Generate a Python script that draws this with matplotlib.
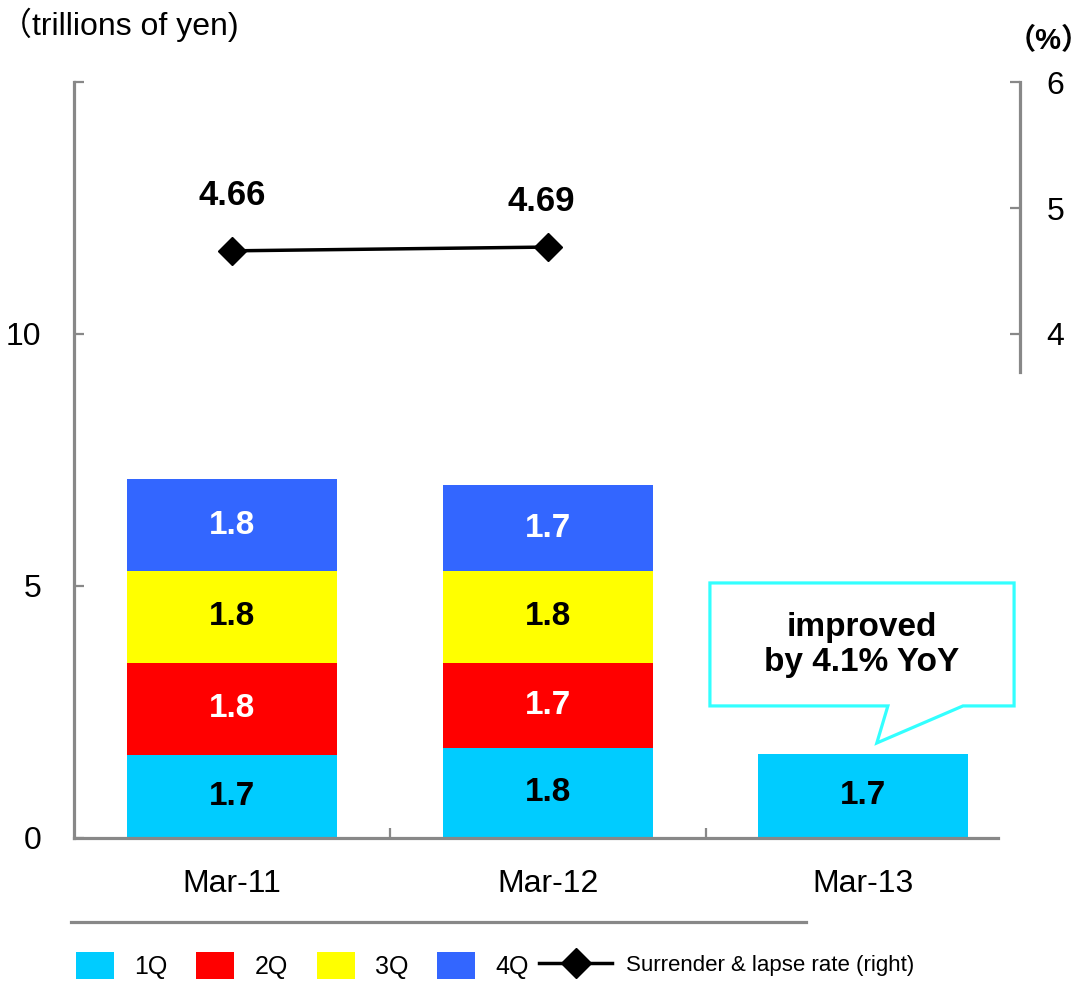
import matplotlib
matplotlib.use("Agg")
import matplotlib.pyplot as plt
import numpy as np
from matplotlib.patches import Patch, Polygon
from matplotlib.lines import Line2D

plt.rcParams['font.family'] = ['Liberation Sans', 'Noto Sans CJK JP', 'DejaVu Sans']

# data
years = ['Mar-11', 'Mar-12', 'Mar-13']
quarters = ['1Q', '2Q', '3Q', '4Q']
q_values = [
    [1.65, 1.79, 1.67],   # 1Q
    [1.83, 1.69, np.nan],  # 2Q
    [1.81, 1.81, np.nan],  # 3Q
    [1.83, 1.71, np.nan],  # 4Q
]
q_labels = [
    ['1.7', '1.8', '1.7'],
    ['1.8', '1.7', ''],
    ['1.8', '1.8', ''],
    ['1.8', '1.7', ''],
]
lapse_rate = [4.66, 4.69, np.nan]
lapse_labels = ['4.66', '4.69', '']
label_offsets = [(0, 40), (-5, 33), (0, 0)]

colors = ['#00CCFF', '#FF0000', '#FFFF00', '#3366FF']
text_colors = ['black', 'white', 'black', 'white']
gray = '#888888'

fig = plt.figure(figsize=(10.92, 9.81), dpi=100)
ax = fig.add_axes([0.0682, 0.1458, 0.846, 0.7706])

x = np.arange(len(years))
bottom = np.zeros(len(years))
for vals, labs, c, tc in zip(q_values, q_labels, colors, text_colors):
    v = np.nan_to_num(np.array(vals, dtype=float))
    ax.bar(x, v, 0.666, bottom=bottom, color=c, zorder=2)
    for xi, (vi, b, lab) in enumerate(zip(v, bottom, labs)):
        if vi > 0:
            ax.text(xi, b + vi / 2, lab, ha='center', va='center',
                    fontsize=24, fontweight='bold', color=tc, zorder=3)
    bottom = bottom + v

ax.set_xlim(-0.5, 2.428)
ax.set_ylim(0, 15)
ax.set_yticks([0, 5, 10, 15])
ax.set_yticklabels(['0', '5', '10', ''])
ax.set_xticks(x)
ax.set_xticklabels(years)
ax.set_xticks([0.5, 1.5], minor=True)
ax.tick_params(axis='x', which='major', length=0, labelsize=23, pad=22)
ax.tick_params(axis='x', which='minor', direction='in', length=7,
               width=1.6, color=gray)
ax.tick_params(axis='y', direction='in', length=7, width=1.6, color=gray,
               labelsize=23, pad=24)
for s in ['top', 'right']:
    ax.spines[s].set_visible(False)
for s in ['left', 'bottom']:
    ax.spines[s].set_color(gray)
    ax.spines[s].set_linewidth(2.3)

# right axis
ax2 = ax.twinx()
ax2.set_ylim(0, 6)
ax2.set_yticks([4, 5, 6])
for s in ['top', 'left', 'bottom']:
    ax2.spines[s].set_visible(False)
ax2.spines['right'].set_position(('axes', 1.0238))
ax2.spines['right'].set_bounds(3.7, 6)
ax2.spines['right'].set_color(gray)
ax2.spines['right'].set_linewidth(2.3)
ax2.tick_params(axis='y', direction='in', length=7, width=1.6, color=gray,
                labelsize=23, pad=19)
ax2.plot(x, lapse_rate, color='black', lw=2.5, marker='D', ms=14, zorder=4)
for xi, (v, lab, off) in enumerate(zip(lapse_rate, lapse_labels, label_offsets)):
    if lab:
        ax2.annotate(lab, (xi, v), xytext=off, textcoords='offset points',
                     ha='center', va='center', fontsize=25, fontweight='bold')

# callout
callout = Polygon([(1.514, 5.06), (2.478, 5.06), (2.478, 2.62), (2.316, 2.62),
                   (2.043, 1.885), (2.078, 2.62), (1.514, 2.62)],
                  closed=True, facecolor='white', edgecolor='#33FFFF',
                  lw=2.3, clip_on=False, zorder=5)
ax.add_patch(callout)
ax.text(1.996, 3.83, 'improved\nby 4.1% YoY', ha='center', va='center',
        fontsize=24, fontweight='bold', linespacing=1.2, zorder=6)

# axis unit labels
fig.text(0.0, 0.975, '（trillions of yen)', fontsize=23, ha='left', va='center')
fig.text(0.999, 0.958, '（%）', fontsize=21, fontweight='bold', ha='right', va='center')

# separator line above legend
fig.add_artist(Line2D([0.065, 0.738], [0.060, 0.060], color=gray, lw=2.3))

handles = [Patch(facecolor=c, edgecolor='none') for c in colors]
leg1 = fig.legend(handles, quarters, loc='center left', bbox_to_anchor=(0.0696, 0.016),
                  ncol=4, frameon=False, fontsize=18,
                  handlelength=1.52, handleheight=1.3, handletextpad=0.8,
                  columnspacing=1.16, borderpad=0, borderaxespad=0)
line_handle = Line2D([], [], color='black', lw=2.5, marker='D', ms=15)
leg2 = fig.legend([line_handle], ['Surrender & lapse rate (right)'], loc='center left',
                  bbox_to_anchor=(0.4936, 0.016), frameon=False, fontsize=16,
                  handlelength=3.3, handletextpad=0.63, borderpad=0, borderaxespad=0)

fig.savefig('out.png', dpi=100)
